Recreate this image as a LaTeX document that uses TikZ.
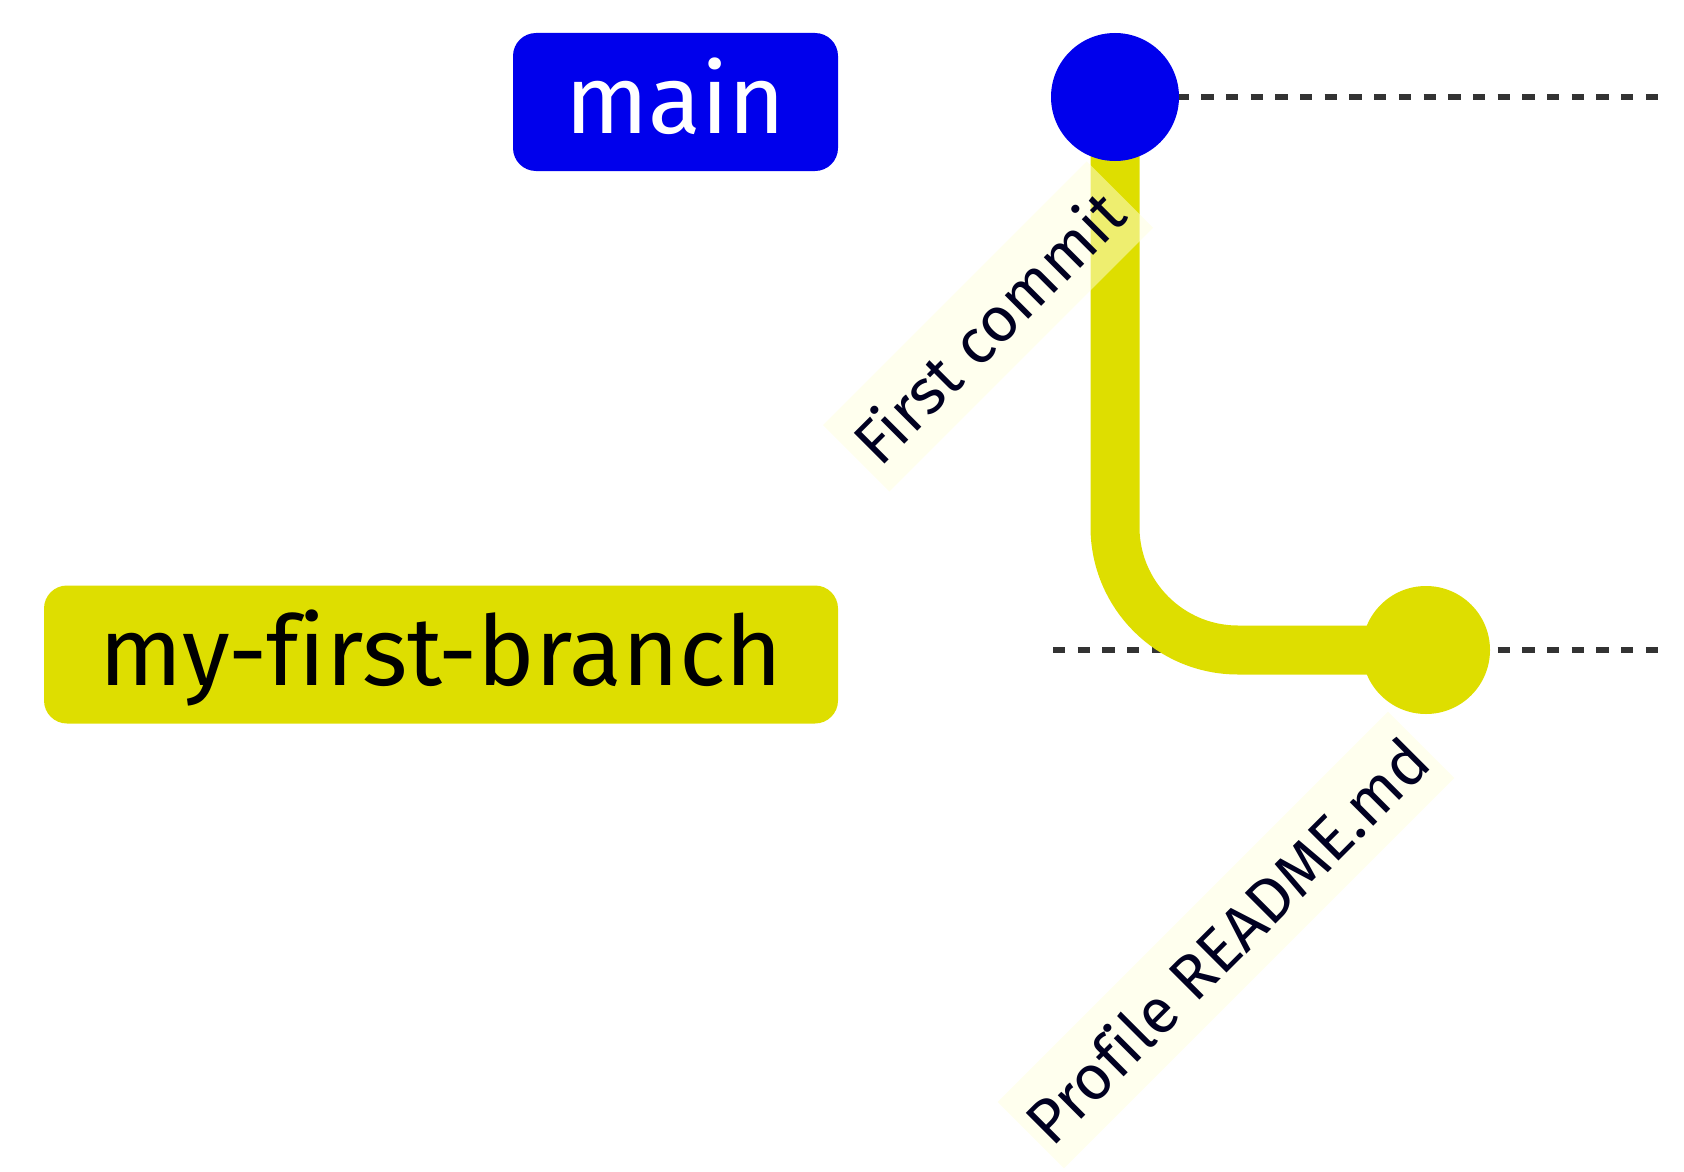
\documentclass[tikz,border=0pt]{standalone}
\usepackage{fontspec}
\setmainfont{Fira Sans}[Ligatures=NoCommon]
\usetikzlibrary{backgrounds}
\definecolor{gitblue}{RGB}{0,0,236}
\definecolor{gityellow}{RGB}{222,222,0}
\definecolor{lanegray}{RGB}{51,51,51}
\definecolor{labelbg}{HTML}{FFFFDE}
\definecolor{labeltext}{HTML}{000021}

\begin{document}
\begin{tikzpicture}[x=1pt, y=-1pt,
  branchlabel/.style={rounded corners=23pt, minimum height=138pt,
    text height=70pt, text depth=8pt, inner sep=0pt,
    font=\fontsize{97}{110}\selectfont},
  commit/.style={circle, minimum size=128pt, inner sep=0pt},
  commitlabel/.style={rotate=45, minimum height=94pt, inner sep=0pt,
    fill=labelbg, fill opacity=0.5, text opacity=1, text=labeltext,
    font=\fontsize{63}{75}\selectfont},
  lane/.style={line width=6pt, lanegray, dash pattern=on 12.3pt off 12.4pt},
  branchline/.style={line width=49pt, gityellow, rounded corners=123pt}]

% page has the size of the reference
\useasboundingbox (0,0) rectangle (1684,1172);

% Branch labels
\node[branchlabel, fill=gitblue, text=white, minimum width=325pt]
  (mainlabel) at (675.5,102) {main};
\node[branchlabel, fill=gityellow, text=black, minimum width=794pt]
  (branchlabel) at (441,654.5) {my-first-branch};

% Commits
\node[commit, fill=gitblue] (c1) at (1115,97) {};
\node[commit, fill=gityellow] (c2) at (1426,650) {};

\begin{scope}[on background layer]
  % Lanes
  \coordinate (mainlane) at (1053,97);
  \coordinate (mainlaneend) at (1658,97);
  \coordinate (branchlane) at (1053,650);
  \coordinate (branchlaneend) at (1658,650);
  \draw[lane] (mainlane) -- (mainlaneend);
  \draw[lane] (branchlane) -- (branchlaneend);

  % Branch off main
  \draw[branchline] (c1.center) |- (c2.center);

  % Commit messages
  \node[commitlabel, minimum width=373pt] (c1msg) at (988,326.5) {First commit};
  \node[commitlabel, minimum width=552pt] (c2msg) at (1226,940) {Profile README.md};
\end{scope}
\end{tikzpicture}
\end{document}
